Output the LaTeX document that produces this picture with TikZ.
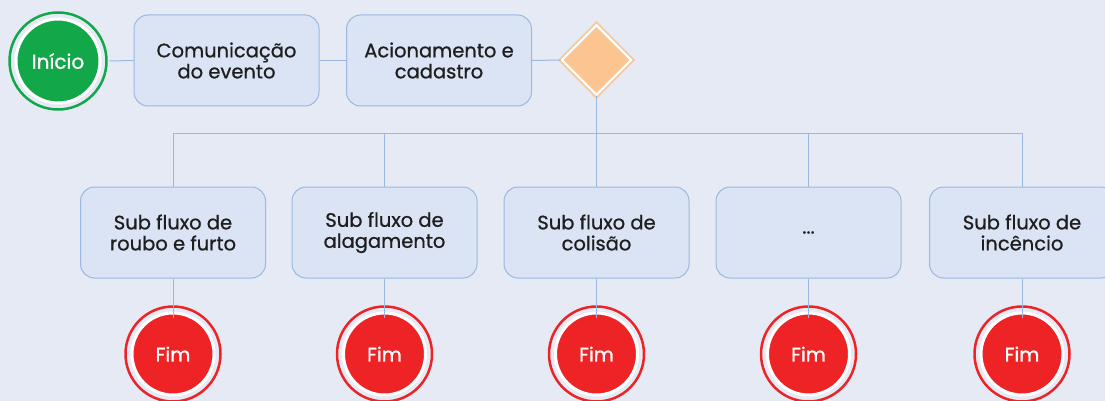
\documentclass[tikz,border=0pt]{standalone}
\usepackage{fontspec}
\setmainfont{Poppins}[RawFeature={embolden=0.8}]
\usetikzlibrary{shapes.geometric}
\definecolor{bg}{HTML}{E6EAF5}
\definecolor{boxfill}{HTML}{DAE4F5}
\definecolor{boxline}{HTML}{9AB8E0}
\definecolor{startgreen}{HTML}{12A84A}
\definecolor{endred}{HTML}{EE2326}
\definecolor{gatefill}{HTML}{FBC490}
\definecolor{gateline}{HTML}{F9C896}
\definecolor{txt}{HTML}{1E1E1E}
\tikzset{
  stepbox/.style={draw=boxline, line width=1pt, fill=boxfill, rounded corners=14pt,
    minimum width=185pt, minimum height=91pt, align=center, text=txt,
    font=\fontsize{19.5}{21}\selectfont, inner sep=0pt},
  startev/.style={circle, fill=startgreen, draw=white, line width=3pt, minimum size=84pt,
    inner sep=0pt, text=white, font=\fontsize{20}{21}\selectfont,
    append after command={\pgfextra{\draw[startgreen, line width=2.5pt] (\tikzlastnode.center) circle (48.5pt);}}},
  endev/.style={circle, fill=endred, draw=white, line width=3pt, minimum size=82pt,
    inner sep=0pt, text=white, font=\fontsize{19.5}{21}\selectfont,
    append after command={\pgfextra{\draw[endred, line width=2.5pt] (\tikzlastnode.center) circle (47.5pt);}}},
  conn/.style={draw=boxline, line width=1pt},
}
\begin{document}
\begin{tikzpicture}[x=1pt, y=-1pt]
\useasboundingbox[fill=bg] (0,0) rectangle (1105,401);
% top row
\node[stepbox] (com) at (226.5,60.5) {Comunicação\\do evento};
\node[stepbox] (aci) at (439,60.5) {Acionamento e\\cadastro};
\node[diamond, fill=gatefill, draw=white, line width=2pt, minimum width=70pt, minimum height=70pt, inner sep=0pt] (gw) at (596.5,60) {};
\draw[gateline, line width=1.5pt] (559,60) -- (596.5,22) -- (634,60) -- (596.5,98) -- cycle;
% sub flows
\node[stepbox] (s1) at (173,232.5) {Sub fluxo de\\roubo e furto};
\node[stepbox] (s2) at (384.5,232.5) {Sub fluxo de\\alagamento};
\node[stepbox] (s3) at (596.5,232.5) {Sub fluxo de\\colisão};
\node[stepbox] (s4) at (808.5,232.5) {...};
\node[stepbox] (s5) at (1022,232.5) {Sub fluxo de\\incêncio};
% ends
\node[endev] (e1) at (173,354) {Fim};
\node[endev] (e2) at (384.5,354) {Fim};
\node[endev] (e3) at (596.5,354) {Fim};
\node[endev] (e4) at (808.5,354) {Fim};
\node[endev] (e5) at (1022,354) {Fim};
% start
\node[startev] (st) at (58,61) {Início};
% connectors
\coordinate (bus) at (596.5,134);
\path[conn] (st.east) ++(8pt,0) -- (com.west);
\path[conn] (com) -- (aci);
\path[conn] (aci.east) -- (gw.west);
\path[conn] (gw.south) -- (bus);
\foreach \s in {s1,s2,s3,s4,s5}{
  \path[conn] (gw.south) -- (bus) -| (\s.north);
}
\foreach \i in {1,...,5}{
  \path[conn] (s\i.south) -- ([yshift=-6pt]e\i.north);
}
\end{tikzpicture}
\end{document}
